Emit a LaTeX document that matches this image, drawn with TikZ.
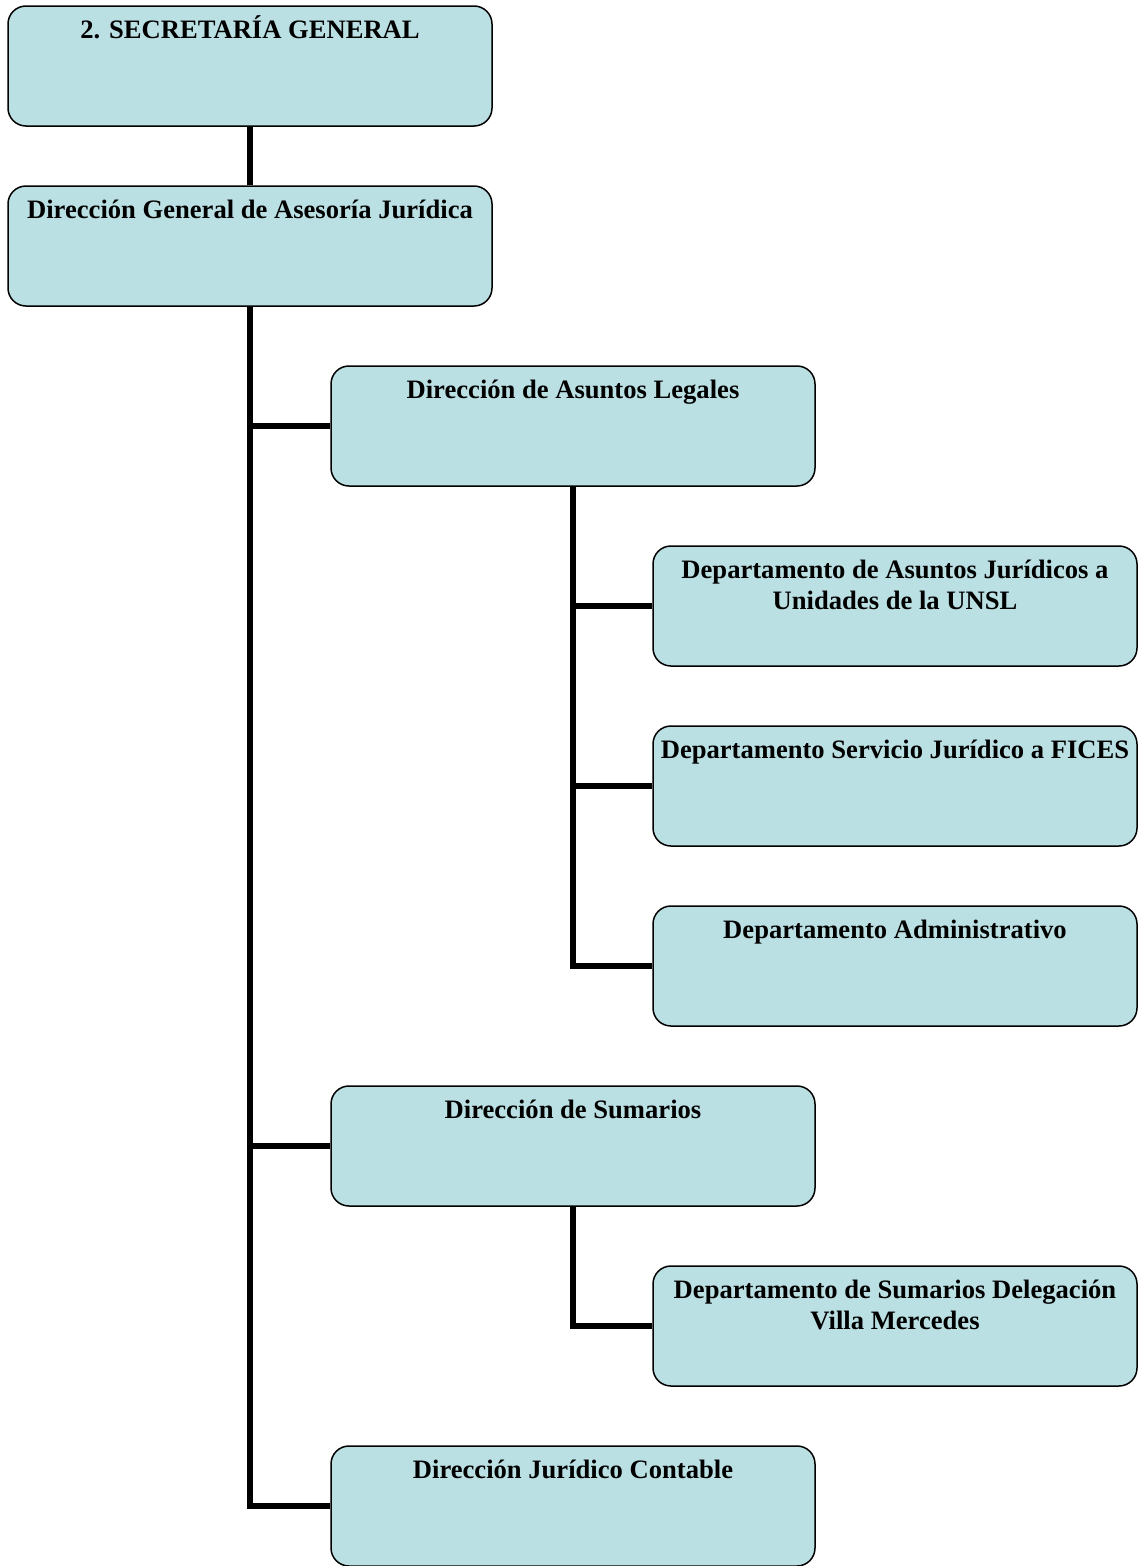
\documentclass[tikz,border=0pt]{standalone}
\usepackage{fontspec}
\setmainfont{Liberation Serif}
\begin{document}
\definecolor{boxfill}{RGB}{186,224,227}
\begin{tikzpicture}[x=1pt,y=-1pt,
  unit/.style={draw=black, fill=boxfill, line width=1.5pt, rounded corners=18pt,
    minimum width=484pt, minimum height=120pt, inner sep=0pt},
  title/.style={anchor=north, yshift=-9pt, inner sep=0pt, align=center,
    font=\fontsize{26.6}{31}\selectfont\bfseries},
  link/.style={line width=5.5pt, line join=miter, line cap=butt}]
\useasboundingbox (0,0) rectangle (1138,1566);

% boxes of the organisation chart
\node[unit, label={[title]north:\rule{0pt}{24pt}2. SECRETARÍA GENERAL}] (sg) at (250,66) {};
\node[unit, label={[title]north:\rule{0pt}{24pt}Dirección General de Asesoría Jurídica}] (dgaj) at (250,246) {};
\node[unit, label={[title]north:\rule{0pt}{24pt}Dirección de Asuntos Legales}] (dal) at (573,426) {};
\node[unit, label={[title]north:\rule{0pt}{24pt}Departamento de Asuntos Jurídicos a\\Unidades de la UNSL}] (daj) at (895,606) {};
\node[unit, label={[title]north:\rule{0pt}{24pt}Departamento Servicio Jurídico a FICES}] (dsj) at (895,786) {};
\node[unit, label={[title]north:\rule{0pt}{24pt}Departamento Administrativo}] (dad) at (895,966) {};
\node[unit, label={[title]north:\rule{0pt}{24pt}Dirección de Sumarios}] (ds) at (573,1146) {};
\node[unit, label={[title]north:\rule{0pt}{24pt}Departamento de Sumarios Delegación\\Villa Mercedes}] (dsvm) at (895,1326) {};
\node[unit, label={[title]north:\rule{0pt}{24pt}Dirección Jurídico Contable}] (djc) at (573,1506) {};

% connectors
\draw[link] (sg.south) -- (dgaj.north);
\draw[link] (dgaj.south) |- (djc.west);
\draw[link] (dgaj.south |- dal.west) -- (dal.west);
\draw[link] (dgaj.south |- ds.west) -- (ds.west);
\draw[link] (dal.south) |- (dad.west);
\draw[link] (dal.south |- daj.west) -- (daj.west);
\draw[link] (dal.south |- dsj.west) -- (dsj.west);
\draw[link] (ds.south) |- (dsvm.west);
\end{tikzpicture}
\end{document}
